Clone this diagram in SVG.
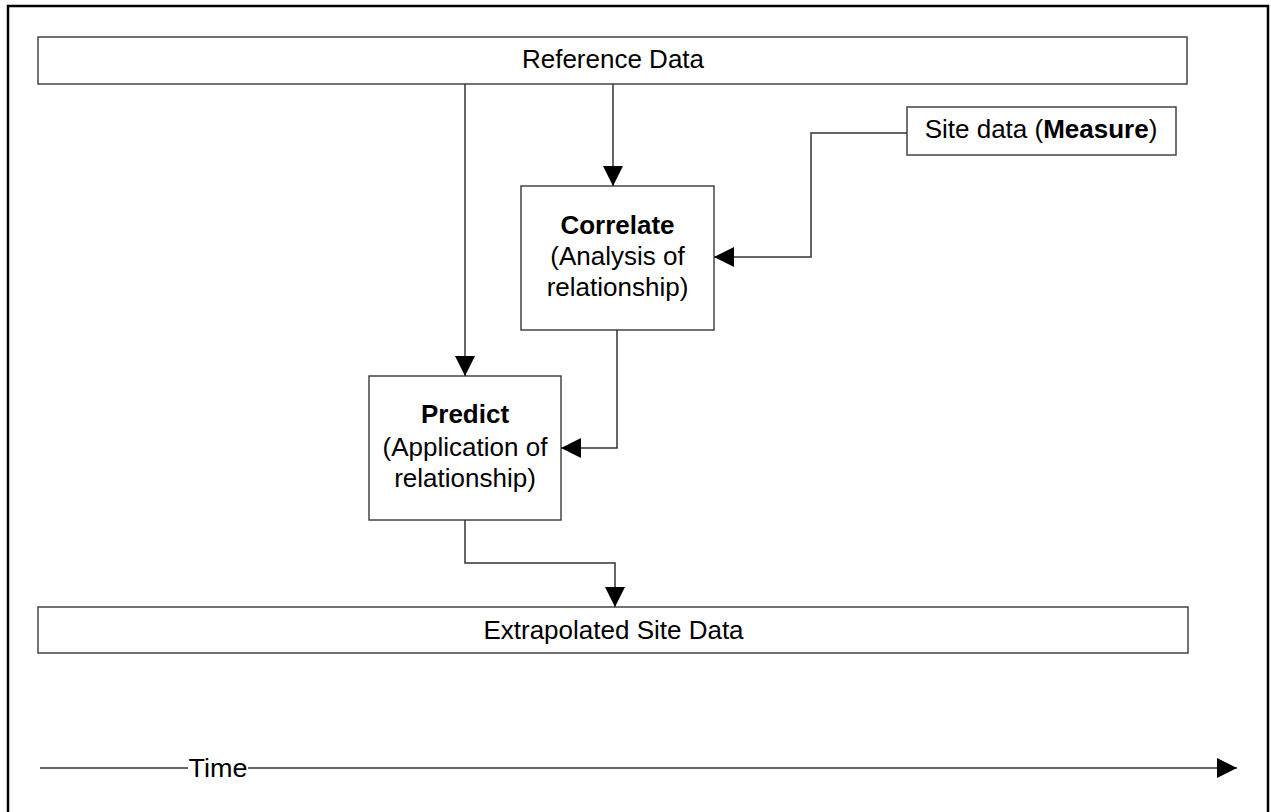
<svg xmlns="http://www.w3.org/2000/svg" width="1271" height="812" viewBox="0 0 1271 812">
  <defs>
    <marker id="arrow" viewBox="0 0 20 20" refX="20" refY="10" markerWidth="20" markerHeight="20" markerUnits="userSpaceOnUse" orient="auto">
      <path d="M0,0 L20,10 L0,20 Z" fill="#000"/>
    </marker>
    <style>
      .box { fill: #fff; stroke: #444; stroke-width: 1.5; }
      .wire { fill: none; stroke: #333; stroke-width: 1.5; }
      .lbl { font-family: "Liberation Sans", Arial, sans-serif; font-size: 26px; fill: #000; text-anchor: middle; }
      .b { font-weight: bold; }
    </style>
  </defs>

  <rect x="0" y="0" width="1271" height="812" fill="#fff"/>
  <!-- outer frame -->
  <rect x="8" y="6" width="1260" height="820" fill="none" stroke="#000" stroke-width="2.5"/>

  <g id="reference-data">
    <rect class="box" x="38" y="37" width="1149" height="47"/>
    <text class="lbl" x="613" y="68">Reference Data</text>
  </g>

  <g id="site-data">
    <rect class="box" x="907" y="107" width="269" height="48"/>
    <text class="lbl" x="1041" y="138">Site data (<tspan class="b">Measure</tspan>)</text>
  </g>

  <g id="correlate">
    <rect class="box" x="521" y="186" width="193" height="144"/>
    <text class="lbl b" x="617.5" y="234">Correlate</text>
    <text class="lbl" x="617.5" y="265">(Analysis of</text>
    <text class="lbl" x="617.5" y="296">relationship)</text>
  </g>

  <g id="predict">
    <rect class="box" x="369" y="376" width="192" height="144"/>
    <text class="lbl b" x="465" y="423">Predict</text>
    <text class="lbl" x="465" y="456">(Application of</text>
    <text class="lbl" x="465" y="487">relationship)</text>
  </g>

  <g id="extrapolated-site-data">
    <rect class="box" x="38" y="607" width="1150" height="46"/>
    <text class="lbl" x="613.5" y="639">Extrapolated Site Data</text>
  </g>

  <g id="connectors">
    <path class="wire" d="M465,84 V376" marker-end="url(#arrow)"/>
    <path class="wire" d="M613,84 V186" marker-end="url(#arrow)"/>
    <path class="wire" d="M907,133 H811 V257 H714" marker-end="url(#arrow)"/>
    <path class="wire" d="M617,330 V448 H561" marker-end="url(#arrow)"/>
    <path class="wire" d="M465,520 V563 H615 V607" marker-end="url(#arrow)"/>
    <path class="wire" d="M40,768 H1237" marker-end="url(#arrow)"/>
  </g>

  <g id="time-axis">
    <rect x="188" y="755" width="60" height="26" fill="#fff"/>
    <text class="lbl" x="218" y="777" textLength="59" lengthAdjust="spacingAndGlyphs">Time</text>
  </g>
</svg>
